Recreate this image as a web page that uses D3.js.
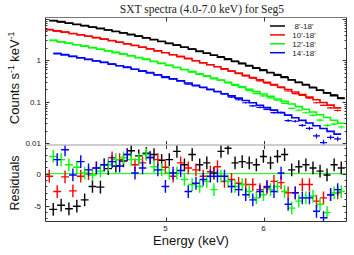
<!DOCTYPE html>
<html><head><meta charset="utf-8">
<script src="https://cdn.jsdelivr.net/npm/d3@7"></script>
<style>body{margin:0;background:#fff}svg{display:block}</style>
</head><body>
<svg id="chart" width="354" height="255"></svg>
<script>
// ---- data ----
const energiesA = [4.058,4.118,4.178,4.240,4.302,4.365,4.430,4.495,4.559,4.624,4.691,4.757,4.825,4.894,4.964,5.035,5.107,5.179,5.254,5.328,5.399,5.471,5.543,5.616,5.690,5.766,5.842,5.920,5.998,6.078,6.157,6.239,6.322,6.406,6.491,6.577,6.664,6.751,6.841,6.932];
const energiesB = [4.028,4.088,4.148,4.209,4.271,4.333,4.397,4.462,4.527,4.591,4.657,4.724,4.791,4.859,4.929,4.999,5.071,5.143,5.216,5.291,5.363,5.435,5.507,5.579,5.653,5.728,5.804,5.881,5.959,6.038,6.117,6.198,6.280,6.364,6.448,6.534,6.620,6.707,6.796,6.886];

const modelBlack = [9.07,8.49,7.92,7.37,6.84,6.33,5.84,5.37,4.94,4.53,4.14,3.78,3.44,3.12,2.82,2.54,2.29,2.05,1.84,1.64,1.47,1.32,1.18,1.05,0.933,0.828,0.732,0.647,0.569,0.500,0.439,0.384,0.335,0.292,0.253,0.219,0.190,0.164,0.141,0.121];
const modelRed = [5.45,5.09,4.75,4.42,4.10,3.79,3.50,3.22,2.95,2.71,2.47,2.26,2.05,1.86,1.68,1.52,1.36,1.22,1.094,0.976,0.872,0.780,0.697,0.621,0.552,0.490,0.433,0.382,0.336,0.295,0.259,0.2266,0.1976,0.1719,0.1492,0.1292,0.1116,0.0963,0.0829,0.0711];
const modelGreen = [2.98,2.77,2.57,2.37,2.19,2.01,1.84,1.68,1.53,1.40,1.27,1.148,1.038,0.934,0.839,0.751,0.671,0.599,0.531,0.471,0.420,0.374,0.332,0.294,0.260,0.229,0.201,0.176,0.154,0.135,0.117,0.102,0.0885,0.0765,0.0660,0.0568,0.0488,0.0419,0.0358,0.0305];
const modelBlue = [1.441,1.338,1.237,1.142,1.050,0.963,0.881,0.804,0.734,0.667,0.605,0.547,0.493,0.444,0.398,0.356,0.318,0.283,0.251,0.223,0.199,0.1764,0.1565,0.1385,0.1222,0.1075,0.0944,0.0827,0.0723,0.0630,0.0549,0.0477,0.0412,0.0356,0.0307,0.0264,0.0227,0.0194,0.0166];

const resBlack = [-5.6,-4.95,-5.5,-5.1,-4.1,-2.0,-2.1,0.8,1.2,2.0,3.6,2.8,3.2,3.0,2.1,2.2,3.5,1.4,3.0,1.4,1.7,0.1,3.5,4.0,1.7,1.9,1.7,1.4,2.7,1.7,2.7,3.0,0.6,1.1,1.4,0.9,0.4,-0.2,1.4,0.9];
const resRed = [-0.4,-2.8,-0.5,-2.7,-0.4,0.0,0.9,1.4,2.5,2.2,3.0,1.4,1.7,2.6,2.2,1.0,-0.4,1.7,0.9,0.6,-0.4,0.3,1.1,-1.2,-0.9,-1.5,-1.7,-1.7,-2.5,-2.2,-1.2,-1.4,-3.0,-3.0,-1.7,-1.7,-4.3,-3.8,-3.3,-3.0];
const resGreen = [2.7,2.2,1.4,1.0,0.1,-0.2,0.4,1.4,2.2,2.5,2.2,2.2,3.0,1.1,0.6,0.1,0.1,-0.9,-1.7,-2.0,-1.2,-2.5,-0.4,-1.2,-2.0,-1.7,-2.8,-3.8,-3.3,-2.5,-2.0,-2.8,-5.4,-4.3,-3.8,-3.5,-4.8,-6.1,-3.0,-2.8];
const resBlue = [2.2,3.75,-0.2,1.9,0.6,0.9,1.4,1.9,1.2,3.0,0.1,0.9,2.5,0.6,-2.0,0.1,0.5,-2.8,-1.5,-0.9,-0.4,-0.4,-0.4,-2.0,-2.5,-3.3,-4.1,-2.8,-2.0,-2.8,0.1,-4.8,-3.0,-3.8,-3.8,-5.9,-6.9,-3.3,-2.5];

const legendLabels = ["8'-18'", "10'-18'", "12'-18'", "14'-18'"];
const seriesColors = ["#000000", "#ff0000", "#00ff00", "#0000ff"];
const xTickValues = [5, 6];
const yTopTickValues = [0.01, 0.1, 1];
const yResTickValues = [-5, 0];
const titleText = "SXT spectra (4.0-7.0 keV) for Seg5";
const poissonK = 1.4e-4; // variance per unit model (Poisson-like errors)

// ---- layout ----
const L = 45.5, R = 346.5, T = 17.5, M = 145, B = 221.5;
const svg = d3.select("#chart");
const x = d3.scaleLog().domain([4, 7]).range([L, R]);
const yTop = d3.scaleLog().domain([0.0091, 10.7]).range([M, T]);
const yRes = d3.scaleLinear().domain([-7.5, 4.5]).range([B, M]);

const series = [
  {label: legendLabels[0], color: seriesColors[0], e: energiesA, m: modelBlack, r: resBlack},
  {label: legendLabels[1], color: seriesColors[1], e: energiesB, m: modelRed, r: resRed},
  {label: legendLabels[2], color: seriesColors[2], e: energiesA, m: modelGreen, r: resGreen},
  {label: legendLabels[3], color: seriesColors[3], e: energiesB.slice(1), m: modelBlue, r: resBlue}
];
series.forEach(s => {
  const e = s.e;
  s.lo = e.map((v, i) => i > 0 ? Math.sqrt(e[i-1]*v) : v*Math.sqrt(v/e[1]));
  s.hi = e.map((v, i) => i < e.length-1 ? Math.sqrt(e[i+1]*v) : v*Math.sqrt(v/e[i-1]));
});

const defs = svg.append("defs");
defs.append("clipPath").attr("id","cTop").append("rect").attr("x",L).attr("y",T).attr("width",R-L).attr("height",M-T);
defs.append("clipPath").attr("id","cRes").append("rect").attr("x",L).attr("y",M).attr("width",R-L).attr("height",B-M);

// ---- upper panel ----
const gTop = svg.append("g").attr("clip-path","url(#cTop)");
const lineGen = d3.line().x(d => x(d[0])).y(d => yTop(d[1]));
series.forEach(s => {
  const pts = [];
  s.m.forEach((v, i) => { pts.push([s.lo[i], v]); pts.push([s.hi[i], v]); });
  gTop.append("path").attr("d", lineGen(pts)).attr("fill","none")
    .attr("stroke", s.color).attr("stroke-width", 1.6);
  const g = gTop.append("g").attr("stroke", s.color).attr("stroke-width", 1.2);
  s.m.forEach((v, i) => {
    const sig = Math.sqrt(v * poissonK);
    const d = v + s.r[i]*sig;
    g.append("line").attr("x1", x(s.lo[i])).attr("x2", x(s.hi[i])).attr("y1", yTop(d)).attr("y2", yTop(d));
    g.append("line").attr("x1", x(s.e[i])).attr("x2", x(s.e[i])).attr("y1", yTop(Math.max(d - sig, 1e-4))).attr("y2", yTop(d + sig));
  });
});

// ---- residual panel ----
const gRes = svg.append("g").attr("clip-path","url(#cRes)");
gRes.append("line").attr("x1",L).attr("x2",R).attr("y1",yRes(0)).attr("y2",yRes(0))
  .attr("stroke","#00ff00").attr("stroke-width",1);
series.forEach(s => {
  const g = gRes.append("g").attr("stroke", s.color).attr("stroke-width", 1.4);
  s.r.forEach((v, i) => {
    g.append("line").attr("x1", x(s.lo[i])).attr("x2", x(s.hi[i])).attr("y1", yRes(v)).attr("y2", yRes(v));
    g.append("line").attr("x1", x(s.e[i])).attr("x2", x(s.e[i])).attr("y1", yRes(v-1)).attr("y2", yRes(v+1));
  });
});

// ---- frame & ticks ----
const axisColor = "#333";
const fr = svg.append("g").attr("stroke", axisColor).attr("stroke-width", 1).attr("fill","none");
fr.append("line").attr("x1",L).attr("x2",L).attr("y1",T).attr("y2",B);
fr.append("line").attr("x1",R).attr("x2",R).attr("y1",T).attr("y2",B);
fr.append("line").attr("x1",L).attr("x2",R).attr("y1",T).attr("y2",T).attr("stroke","#777");
fr.append("line").attr("x1",L).attr("x2",R).attr("y1",B).attr("y2",B);
svg.append("line").attr("x1",L).attr("x2",R).attr("y1",M).attr("y2",M).attr("stroke","#bdbdbd").attr("stroke-width",1.5);

// y ticks upper (log, with minor)
const topTicks = [];
for (let dec = -3; dec <= 1; dec++) for (let k = 1; k <= 9; k++) {
  const v = k * Math.pow(10, dec);
  if (v >= 0.0091 && v <= 10.7) topTicks.push({v, major: k === 1});
}
topTicks.forEach(t => {
  const yy = Math.round(yTop(t.v)) + 0.5, len = t.major ? 4 : 2;
  fr.append("line").attr("x1",L).attr("x2",L+len).attr("y1",yy).attr("y2",yy);
  fr.append("line").attr("x1",R).attr("x2",R-len).attr("y1",yy).attr("y2",yy);
});
// residual ticks
for (let v = -7; v <= 4; v++) {
  const yy = Math.round(yRes(v)) + 0.5, len = (v % 5 === 0) ? 4 : 2;
  fr.append("line").attr("x1",L).attr("x2",L+len).attr("y1",yy).attr("y2",yy);
  fr.append("line").attr("x1",R).attr("x2",R-len).attr("y1",yy).attr("y2",yy);
}
// x ticks
xTickValues.forEach(v => {
  const xx = Math.round(x(v)) + 0.5;
  fr.append("line").attr("x1",xx).attr("x2",xx).attr("y1",B).attr("y2",B-4);
  fr.append("line").attr("x1",xx).attr("x2",xx).attr("y1",M).attr("y2",M+4);
  fr.append("line").attr("x1",xx).attr("x2",xx).attr("y1",M).attr("y2",M-4);
  fr.append("line").attr("x1",xx).attr("x2",xx).attr("y1",T).attr("y2",T+4);
});

// ---- text ----
const sans = "'Liberation Sans', Arial, sans-serif";
const tl = svg.append("g").attr("font-family", sans).attr("font-size", 8).attr("fill", "#222");
yTopTickValues.forEach(v => {
  tl.append("text").attr("x", 41).attr("y", yTop(v) + 3).attr("text-anchor","end").text(d3.format("~g")(v));
});
yResTickValues.forEach(v => {
  tl.append("text").attr("x", 41).attr("y", yRes(v) + 3).attr("text-anchor","end").text(v);
});
xTickValues.forEach(v => {
  tl.append("text").attr("x", x(v)).attr("y", 231).attr("text-anchor","middle").text(v);
});

svg.append("text").attr("x", 202).attr("y", 13).attr("text-anchor","middle")
  .attr("font-family","'Liberation Serif', 'Times New Roman', serif").attr("font-size", 11.5)
  .attr("fill","#222").text(titleText);

const yl = svg.append("text").attr("transform","translate(19,78) rotate(-90)").attr("text-anchor","middle")
  .attr("font-family", sans).attr("font-size", 13).attr("fill","#111");
yl.append("tspan").text("Counts s");
yl.append("tspan").attr("dy",-5).attr("font-size",8.5).text("-1");
yl.append("tspan").attr("dy",5).text(" keV");
yl.append("tspan").attr("dy",-5).attr("font-size",8.5).text("-1");

svg.append("text").attr("transform","translate(19,183) rotate(-90)").attr("text-anchor","middle")
  .attr("font-family", sans).attr("font-size", 12.5).attr("fill","#111").text("Residuals");

svg.append("text").attr("x", 191).attr("y", 245).attr("text-anchor","middle")
  .attr("font-family", sans).attr("font-size", 13).attr("fill","#111").text("Energy (keV)");

// legend
const lg = svg.append("g");
series.forEach((s, i) => {
  const yy = 26 + i * 8.9;
  lg.append("line").attr("x1", 270).attr("x2", 285).attr("y1", yy).attr("y2", yy)
    .attr("stroke", s.color).attr("stroke-width", 1.5);
  lg.append("text").attr("x", 304).attr("y", yy + 3).attr("text-anchor","middle")
    .attr("font-family", sans).attr("font-size", 8).attr("fill","#222").text(s.label);
});
</script>
</body></html>
